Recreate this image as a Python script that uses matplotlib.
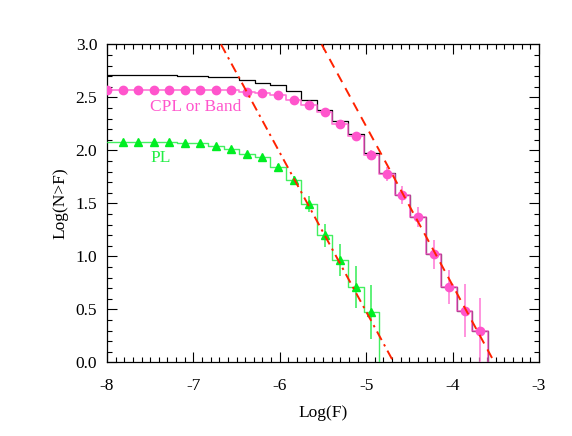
import matplotlib
matplotlib.use("Agg")
import matplotlib.pyplot as plt
from matplotlib.ticker import MultipleLocator

plt.rcParams['font.family'] = ['Liberation Serif', 'DejaVu Serif']

# bin centres, Log(F)
log_f = [-8.00, -7.82, -7.64, -7.46, -7.28, -7.10, -6.92, -6.74, -6.56, -6.38,
         -6.20, -6.02, -5.84, -5.66, -5.48, -5.30, -5.12, -4.94, -4.76, -4.58,
         -4.40, -4.22, -4.04, -3.86, -3.68]

# all bursts (black histogram)
all_n = [2.71, 2.71, 2.71, 2.71, 2.71, 2.70, 2.70, 2.69, 2.69, 2.665,
         2.64, 2.62, 2.56, 2.48, 2.38, 2.28, 2.16, 1.98, 1.785, 1.58,
         1.375, 1.02, 0.71, 0.49, 0.30]

# CPL or Band
cpl_n = [2.575, 2.575, 2.575, 2.575, 2.575, 2.575, 2.575, 2.575, 2.575, 2.55,
         2.54, 2.52, 2.48, 2.43, 2.36, 2.25, 2.14, 1.96, 1.78, 1.58,
         1.375, 1.02, 0.71, 0.49, 0.30]
cpl_err = [0, 0, 0, 0, 0, 0, 0, 0, 0, 0,
           0, 0, 0.005, 0.01, 0.015, 0.02, 0.03, 0.045, 0.065, 0.085,
           0.095, 0.14, 0.16, 0.25, 0.31]

# PL (first bin has no symbol)
pl_f = [-8.00, -7.82, -7.64, -7.46, -7.28, -7.10, -6.92, -6.74, -6.56, -6.38,
        -6.20, -6.02, -5.84, -5.66, -5.48, -5.30, -5.12, -4.94]
pl_n = [2.08, 2.08, 2.08, 2.08, 2.08, 2.07, 2.07, 2.045, 2.01, 1.97,
        1.94, 1.84, 1.72, 1.495, 1.20, 0.965, 0.71, 0.48]
pl_err = [0, 0, 0, 0, 0, 0, 0, 0, 0, 0.01,
          0.02, 0.03, 0.04, 0.08, 0.11, 0.15, 0.2, 0.255]

# slope -1.5 lines
pl_fit_x = [-6.68, -4.68]
pl_fit_y = [3.0, 0.0]
cpl_fit_x = [-5.515, -3.515]
cpl_fit_y = [3.0, 0.0]

step = 0.18
below = -1.0

fig = plt.figure(figsize=(5.72, 4.36), dpi=100)
ax = fig.add_axes([0.187, 0.1686, 0.7553, 0.7294])

# histograms, dropping off below the axis after the last bin
ax.plot(log_f + [log_f[-1] + step], all_n + [below], drawstyle='steps-mid',
        color='black', lw=0.9, zorder=2)
ax.plot(log_f + [log_f[-1] + step], cpl_n + [below], drawstyle='steps-mid',
        color='#ff5fcf', lw=1.2, alpha=0.85, zorder=3)
ax.plot(pl_f + [pl_f[-1] + step], pl_n + [below], drawstyle='steps-mid',
        color='#22ee44', lw=1.0, alpha=0.85, zorder=3)

ax.errorbar(log_f, cpl_n, yerr=cpl_err, fmt='o', color='#ff55cc',
            ecolor='#ff77d4', elinewidth=1.1, capsize=0, markersize=6, zorder=4)
ax.errorbar(pl_f[1:], pl_n[1:], yerr=pl_err[1:], fmt='^', color='#00ee22',
            ecolor='#33ee55', elinewidth=1.1, capsize=0, markersize=5.5, zorder=4)

ax.plot(pl_fit_x, pl_fit_y, color='#ff2200', lw=1.4, dashes=(5, 2.5, 1.2, 2.5),
        zorder=5)
ax.plot(cpl_fit_x, cpl_fit_y, color='#ff2200', lw=1.4, dashes=(5, 3.5), zorder=5)

ax.text(-7.5, 2.41, 'CPL or Band', color='#ff55cc', fontsize=12.5, va='center')
ax.text(-7.5, 1.93, 'PL', color='#22ee44', fontsize=12.5, va='center')

ax.set_xlim(-8, -3)
ax.set_ylim(0, 3)
ax.xaxis.set_major_locator(MultipleLocator(1))
ax.xaxis.set_minor_locator(MultipleLocator(0.1))
ax.yaxis.set_major_locator(MultipleLocator(0.5))
ax.yaxis.set_minor_locator(MultipleLocator(0.1))
ax.xaxis.set_major_formatter(plt.FuncFormatter(lambda v, p: '%d' % v))
ax.yaxis.set_major_formatter(plt.FuncFormatter(lambda v, p: '%.1f' % v))
ax.tick_params(which='both', direction='in', top=True, right=True,
               labelsize=12.5, width=0.8)
ax.tick_params(axis='x', which='major', length=7, pad=11)
ax.tick_params(axis='y', which='major', length=7, pad=7)
ax.tick_params(which='minor', length=3.5)
for s in ax.spines.values():
    s.set_linewidth(0.9)

ax.set_xlabel('Log(F)', fontsize=12.5, labelpad=8)
ax.set_ylabel('Log(N>F)', fontsize=12.5, labelpad=5)

plt.savefig('out.png', dpi=100)
